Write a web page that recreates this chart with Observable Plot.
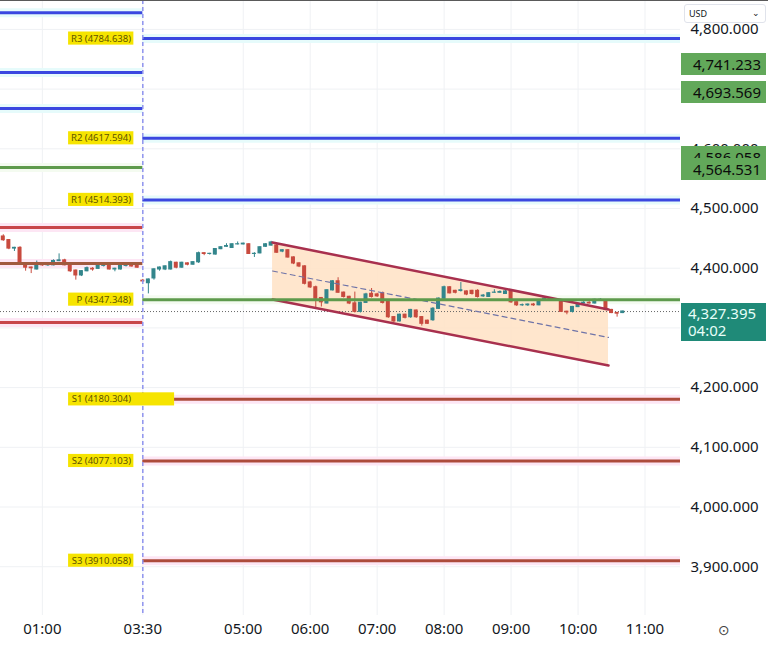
<!DOCTYPE html>
<html><head><meta charset="utf-8">
<script src="https://cdn.jsdelivr.net/npm/d3@7"></script>
<script src="https://cdn.jsdelivr.net/npm/@observablehq/plot@0.6"></script>
<style>
body{margin:0;background:#fff;font-family:"Noto Sans",sans-serif;}
#wrap{position:relative;width:768px;height:648px;overflow:hidden;background:#fff;}
#wrap svg{display:block;}
.badge{position:absolute;left:681px;width:85px;box-sizing:border-box;padding-right:5px;text-align:right;font-size:15px;line-height:22px;}
.topline{position:absolute;left:0;top:0;width:768px;height:1px;background:#5a5a5a;}
.usd{position:absolute;left:684px;top:4px;width:82px;height:19px;box-sizing:border-box;border:1px solid #e0e3eb;border-radius:3px;background:#fff;font-size:9px;line-height:17px;padding-left:4px;color:#131722;}
.usd span{position:absolute;right:5px;top:-1px;font-size:9px;}
.gear{position:absolute;left:718px;top:622px;font-size:14px;color:#444;font-family:"DejaVu Sans",sans-serif;}
</style></head><body><div id="wrap"></div><script>
// ---- data ----
const timeTicks = [7.5, 25.5, 43.5, 55.5, 67.5, 79.5, 91.5, 103.5, 115.5]; // bar index of each tick
const timeLabels = ["01:00","03:30","05:00","06:00","07:00","08:00","09:00","10:00","11:00"];
const priceTicks = [3900,4000,4100,4200,4300,4400,4500,4600,4700,4800];
const priceLabelTicks = [3900,4000,4100,4200,4400,4500,4600,4800]; // 4300 and 4700 sit under the badges
const sessionStart = 25.5; // bar index of 03:30 session open
const barCount = 121.86;    // visible bars

// previous session 5-min candles [open, high, low, close]
const prevSession = [
[4453,4456,4445,4447],[4447,4448,4431,4433],[4433,4435,4428,4434],[4434,4436,4405,4408],
[4407,4408,4395,4401],[4401,4402,4391,4400],[4398,4412,4397,4406],[4406,4408,4403,4405],
[4405,4407,4403,4405],[4405,4414,4404,4412],[4412,4424,4411,4413],[4413,4415,4404,4405],
[4405,4406,4393,4395],[4396,4397,4380,4388],[4388,4396,4386,4395],[4395,4402,4394,4400],
[4399,4401,4395,4398],[4399,4405,4398,4404],[4404,4406,4402,4405],[4405,4406,4397,4398],
[4398,4400,4394,4399],[4398,4406,4397,4404],[4404,4406,4402,4404],[4405,4406,4402,4403],
[4404,4405,4400,4401]
];
// current session 5-min candles [open, high, low, close]
const session = [
[4379,4381,4376,4378],[4375,4382,4357,4381],[4383,4399,4380,4398],[4398,4402,4395,4401],
[4398,4404,4396,4403],[4398,4412,4397,4410],[4409,4410,4399,4401],[4401,4410,4400,4409],
[4408,4409,4404,4406],[4406,4411,4405,4410],[4410,4427,4408,4425],[4425,4426,4421,4424],
[4424,4425,4422,4424],[4423,4433,4422,4432],[4432,4436,4431,4435],[4436,4441,4435,4437],
[4434,4441,4433,4440],[4440,4444,4439,4440],[4440,4442,4439,4441],[4440,4441,4423,4424],
[4424,4426,4418,4424],[4425,4436,4424,4435],[4436,4441,4435,4440],[4438,4445,4437,4443],
[4438,4440,4425,4426],[4428,4431,4426,4430],[4430,4431,4417,4418],[4418,4419,4406,4408],
[4408,4409,4401,4403],[4403,4404,4372,4374],[4376,4378,4366,4368],[4368,4370,4334,4349],
[4350,4351,4335,4343],[4341,4364,4340,4363],[4363,4379,4362,4378],[4378,4384,4358,4359],
[4359,4360,4350,4352],[4352,4353,4339,4341],[4341,4360,4325,4327],[4327,4343,4325,4342],
[4342,4358,4341,4356],[4357,4366,4350,4352],[4356,4358,4351,4353],[4358,4360,4340,4342],
[4346,4347,4316,4318],[4318,4319,4309,4311],[4311,4323,4310,4322],[4322,4323,4315,4317],
[4318,4331,4316,4330],[4329,4330,4316,4318],[4318,4319,4303,4307],[4312,4313,4306,4307],
[4313,4334,4311,4332],[4332,4350,4331,4349],[4349,4370,4348,4368],[4368,4369,4357,4358],
[4362,4363,4357,4359],[4362,4376,4360,4363],[4361,4362,4354,4356],[4362,4363,4355,4357],
[4362,4364,4350,4352],[4353,4356,4351,4354],[4352,4359,4351,4358],[4359,4364,4358,4359],
[4359,4362,4358,4360],[4357,4363,4356,4361],[4362,4364,4341,4343],[4343,4344,4336,4338],
[4338,4340,4336,4338],[4338,4340,4336,4339],[4339,4341,4336,4338],[4338,4347,4337,4346],
[4346,4351,4345,4349],[4349,4350,4347,4348],[4348,4349,4346,4347],[4346,4347,4326,4327],
[4327,4328,4322,4326],[4327,4336,4325,4335],[4335,4341,4334,4340],[4341,4344,4340,4342],
[4342,4344,4340,4341],[4341,4348,4340,4347],[4347,4349,4346,4347],[4346,4347,4329,4330],
[4330,4331,4324,4325],[4325,4326,4318,4324],[4325,4328,4324,4327.395]
];

const pivotNames  = ["R3","R2","R1","P","S1","S2","S3"];
const pivotValues = [4784.638,4617.594,4514.393,4347.348,4180.304,4077.103,3910.058];
const prevPivotValues = [4828.0,4727.8,4667.5,4568.7,4468.2,4407.9,4309.0];

const channelX     = [48.75, 108.96];
const channelUpper = [4443.0, 4331.0];
const channelLower = [4347.6, 4237.0];
const channelMid   = [4395.3, 4284.0];

const axisBadges = [4741.233, 4693.569, 4586.058, 4564.531];
const lastPrice = 4327.395;
const countdown = "04:02";

// ---- styles ----
const UP = "#33868c", DOWN = "#c84a3e";
const lineColor = n => n.startsWith("R") ? "#3a47e0" : n === "P" ? "#5e9a4c" : "#ad4b3b";
const prevColor = ["#3a47e0","#3a47e0","#3a47e0","#5e9a4c","#c8464a","#a05a3e","#c8464a"];
const haloColor = n => n.startsWith("R") ? "#e6fbfb" : n === "P" ? "#f4fbf0" : "#fde6f4";

const candles = [
  ...prevSession.map((d,i)=>({x:0.5+i, o:d[0], h:d[1], l:d[2], c:d[3]})),
  ...session.map((d,i)=>({x:sessionStart+i, o:d[0], h:d[1], l:d[2], c:d[3]}))
];
const color = d => d.c >= d.o ? UP : DOWN;

const pivots = pivotNames.map((n,i)=>({name:n, v:pivotValues[i], label:`${n} (${pivotValues[i].toFixed(3)})`}));
const prevPivots = prevPivotValues.map((v,i)=>({v, color:prevColor[i], name:pivotNames[i]}));
const chan = (ys) => channelX.map((x,i)=>({x, y:ys[i]}));
const chanArea = channelX.map((x,i)=>({x, y1:channelLower[i], y2:channelUpper[i]}));
const labelMap = new Map(timeTicks.map((t,i)=>[t,timeLabels[i]]));

const chart = Plot.plot({
  width: 768, height: 648,
  marginLeft: 0, marginRight: 88, marginTop: 0, marginBottom: 33,
  x: {domain:[0, barCount]},
  y: {domain:[3818.3, 4848.4]},
  style: {fontFamily:"'Noto Sans', sans-serif", color:"#131722", background:"transparent"},
  marks: [
    Plot.ruleY(priceTicks, {stroke:"#eff1f4", strokeWidth:1}),
    Plot.ruleX(timeTicks, {stroke:"#eff1f4", strokeWidth:1}),
    // halos
    Plot.ruleY(prevPivots, {y:"v", x1:0, x2:sessionStart, stroke:d=>haloColor(d.name), strokeWidth:9}),
    Plot.ruleY(pivots, {y:"v", x1:sessionStart, x2:barCount, stroke:d=>haloColor(d.name), strokeWidth:9}),
    // channel
    Plot.areaY(chanArea, {x:"x", y1:"y1", y2:"y2", fill:"#ffe2c4", fillOpacity:0.85}),
    // price line
    Plot.ruleY([lastPrice], {stroke:"#666", strokeDasharray:"1,2", strokeWidth:1}),
    // candles
    Plot.ruleX(candles, {x:"x", y1:"l", y2:"h", stroke:color, strokeWidth:1}),
    Plot.rect(candles, {x1:d=>d.x-0.36, x2:d=>d.x+0.36, y1:"o", y2:"c", fill:color, insetTop:-0.6, insetBottom:-0.6}),
    // channel lines
    Plot.line(chan(channelUpper), {x:"x", y:"y", stroke:"#a8304e", strokeWidth:2.5}),
    Plot.line(chan(channelLower), {x:"x", y:"y", stroke:"#a8304e", strokeWidth:2.5}),
    Plot.line(chan(channelMid), {x:"x", y:"y", stroke:"#6f74a8", strokeWidth:1.2, strokeDasharray:"5,4"}),
    // pivot lines
    Plot.ruleY(prevPivots, {y:"v", x1:0, x2:sessionStart, stroke:"color", strokeWidth:3}),
    Plot.ruleY(pivots, {y:"v", x1:sessionStart, x2:barCount, stroke:d=>lineColor(d.name), strokeWidth:3}),
    // session divider
    Plot.ruleX([sessionStart], {stroke:"#8f94ee", strokeWidth:1.5, strokeDasharray:"4,3"}),
    // labels
    Plot.rect(pivots, {x1:12.2, x2:d=>d.name==="S1"?31.2:23.9, y1:d=>d.v-11, y2:d=>d.v+11, fill:"#f6e400"}),
    Plot.text(pivots, {x:23.4, y:"v", text:"label", textAnchor:"end", fontSize:9.5, fill:"#5e5300"}),
    // axes
    Plot.axisY(priceLabelTicks, {anchor:"right", tickSize:0, tickPadding:10, tickFormat:d3.format(",.3f"), fontSize:15, label:null, textAnchor:"start"}),
    Plot.axisX(timeTicks, {tickSize:0, tickPadding:8, tickFormat:d=>labelMap.get(d), fontSize:15, label:null})
  ]
});

const wrap = document.getElementById("wrap");
wrap.appendChild(chart);
const ys = chart.scale("y");
for (const v of axisBadges) {
  const b = document.createElement("div");
  b.className = "badge";
  b.style.top = (ys.apply(v) - 11) + "px";
  b.style.height = "22px";
  b.style.background = "#62a85a";
  b.style.color = "#0c0c0c";
  b.textContent = d3.format(",.3f")(v);
  wrap.appendChild(b);
}
const lb = document.createElement("div");
lb.className = "badge";
lb.style.top = (ys.apply(lastPrice) - 8) + "px";
lb.style.height = "38px";
lb.style.background = "#1f8a78";
lb.style.color = "#e8fff9";
lb.style.lineHeight = "17px";
lb.style.paddingTop = "2px";
lb.style.textAlign = "left";
lb.style.paddingLeft = "7px";
lb.innerHTML = d3.format(",.3f")(lastPrice) + "<br>" + countdown;
wrap.appendChild(lb);
const tl = document.createElement("div"); tl.className = "topline"; wrap.appendChild(tl);
const usd = document.createElement("div"); usd.className = "usd"; usd.innerHTML = "USD<span>⌄</span>"; wrap.appendChild(usd);
const gear = document.createElement("div"); gear.className = "gear"; gear.textContent = "⊙"; wrap.appendChild(gear);
</script></body></html>
